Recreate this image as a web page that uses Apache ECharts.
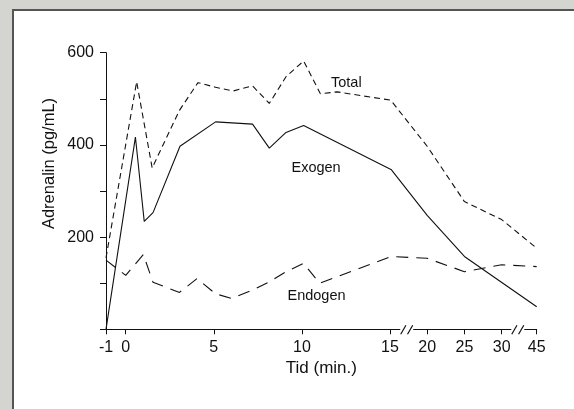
<!DOCTYPE html>
<html>
<head>
<meta charset="utf-8">
<script src="https://cdn.jsdelivr.net/npm/echarts@6/dist/echarts.min.js"></script>
<style>
  html, body { margin: 0; padding: 0; width: 574px; height: 409px; background: #d4d4d0; overflow: hidden; }
  #panel { position: absolute; left: 12px; top: 9px; right: 0; bottom: 0; background: #fff;
           border-top: 2px solid #555; border-left: 2px solid #555; }
  #chart { position: absolute; left: 0; top: 0; width: 574px; height: 409px; }
</style>
</head>
<body>
<div id="panel"></div>
<div id="chart"></div>
<script>
// tick labels
const xTicks = [-1, 0, 5, 10, 15, 20, 25, 30, 45];
const yTicks = [200, 400, 600];

// Exogen (solid)
const exogenTime  = [-1, 0.55, 1.05, 1.55, 3.08, 5.1, 7.2, 8.15, 9.1, 10.1, 15.2, 20, 25, 45];
const exogenValue = [0, 417, 234, 253, 397, 450, 445, 393, 427, 442, 346, 247, 158, 49];

// Total (short dashes)
const totalTime  = [-1, 0.62, 1.5, 3.05, 4.1, 5.1, 6.1, 7.2, 8.15, 9.1, 10.1, 11.05, 12, 15.1, 20, 25, 30, 45];
const totalValue = [155, 537, 350, 475, 535, 525, 517, 528, 490, 548, 582, 511, 515, 497, 397, 277, 238, 176];

// Endogen (long dashes)
const endogenTime  = [-1, 0, 1.0, 1.55, 3.05, 4.05, 5.1, 6.0, 7.2, 8.15, 9.1, 10.1, 11.0, 15.2, 20, 25, 30, 45];
const endogenValue = [150, 117, 162, 102, 80, 110, 77, 67, 85, 103, 125, 143, 100, 158, 154, 125, 140, 136];

// axis breaks (minutes)
const breakTimes = [17.25, 36.9];

// broken time axis: minutes -> position on the drawn axis
const timeKnots = [-1, 0, 15, 30, 45];
const axisKnots = [-1.12, 0, 15, 21.34, 23.33];
function toAxis(t) {
  for (let i = 1; i < timeKnots.length; i++) {
    if (t <= timeKnots[i] || i === timeKnots.length - 1) {
      const a = timeKnots[i - 1], b = timeKnots[i];
      return axisKnots[i - 1] + (t - a) * (axisKnots[i] - axisKnots[i - 1]) / (b - a);
    }
  }
}
const pairs = (ts, vs) => ts.map((t, i) => [toAxis(t), vs[i]]);
const xTickPos = xTicks.map(toAxis);

const font = 'Liberation Sans, Arial, sans-serif';
const ink = '#111';

const chart = echarts.init(document.getElementById('chart'));
chart.setOption({
  animation: false,
  backgroundColor: 'transparent',
  grid: { left: 106, right: 37.3, top: 52.7, bottom: 79.7 },
  xAxis: {
    type: 'value',
    min: toAxis(-1),
    max: toAxis(45),
    axisLine: { show: true, onZero: false, lineStyle: { color: ink, width: 1 } },
    axisTick: { show: true, customValues: xTickPos, length: 5, lineStyle: { color: ink } },
    axisLabel: {
      customValues: xTickPos,
      formatter: v => {
        const i = xTickPos.findIndex(p => Math.abs(p - v) < 1e-6);
        return i < 0 ? '' : String(xTicks[i]);
      },
      margin: 10, fontSize: 16, color: ink, fontFamily: font
    },
    splitLine: { show: false },
    name: 'Tid (min.)',
    nameLocation: 'middle',
    nameGap: 31,
    nameTextStyle: { fontSize: 17, color: ink, fontFamily: font }
  },
  yAxis: {
    type: 'value',
    min: 0, max: 600, interval: 100,
    axisLine: { show: true, onZero: false, lineStyle: { color: ink, width: 1 } },
    axisTick: { show: true, length: 6, lineStyle: { color: ink } },
    axisLabel: {
      formatter: v => yTicks.includes(v) ? String(v) : '',
      margin: 12, fontSize: 16, color: ink, fontFamily: font
    },
    splitLine: { show: false }
  },
  series: [
    { name: 'Total', type: 'line', data: pairs(totalTime, totalValue), symbol: 'none',
      lineStyle: { color: ink, width: 1.1, type: [6, 4] } },
    { name: 'Exogen', type: 'line', data: pairs(exogenTime, exogenValue), symbol: 'none',
      lineStyle: { color: ink, width: 1.1 } },
    { name: 'Endogen', type: 'line', data: pairs(endogenTime, endogenValue), symbol: 'none',
      lineStyle: { color: ink, width: 1.1, type: [12, 8] } }
  ]
});

// break marks on the time axis and the curve labels
const y0 = chart.convertToPixel({ yAxisIndex: 0 }, 0);
const graphics = [];
breakTimes.forEach(t => {
  const cx = chart.convertToPixel({ xAxisIndex: 0 }, toAxis(t));
  graphics.push({ type: 'rect', z: 100, shape: { x: cx - 6.5, y: y0 - 2, width: 13, height: 4 },
                  style: { fill: '#fff' } });
  graphics.push({ type: 'line', z: 101, shape: { x1: cx - 6, y1: y0 + 5, x2: cx - 0.8, y2: y0 - 4 },
                  style: { stroke: ink, lineWidth: 1.2 } });
  graphics.push({ type: 'line', z: 101, shape: { x1: cx + 0.8, y1: y0 + 5, x2: cx + 6, y2: y0 - 4 },
                  style: { stroke: ink, lineWidth: 1.2 } });
});
const textStyle = { fill: ink, fontSize: 14.5, fontFamily: font, verticalAlign: 'middle' };
graphics.push({ type: 'text', z: 101, x: 331, y: 82.5, style: Object.assign({ text: 'Total' }, textStyle) });
graphics.push({ type: 'text', z: 101, x: 291.5, y: 167.5, style: Object.assign({ text: 'Exogen' }, textStyle) });
graphics.push({ type: 'text', z: 101, x: 287.5, y: 295.5, style: Object.assign({ text: 'Endogen' }, textStyle) });
graphics.push({ type: 'text', z: 101, x: 49.5, y: 163.5, rotation: Math.PI / 2,
  style: { text: 'Adrenalin (pg/mL)', fill: ink, fontSize: 16.5, fontFamily: font,
           align: 'center', verticalAlign: 'middle' } });
chart.setOption({ graphic: graphics });
</script>
</body>
</html>
